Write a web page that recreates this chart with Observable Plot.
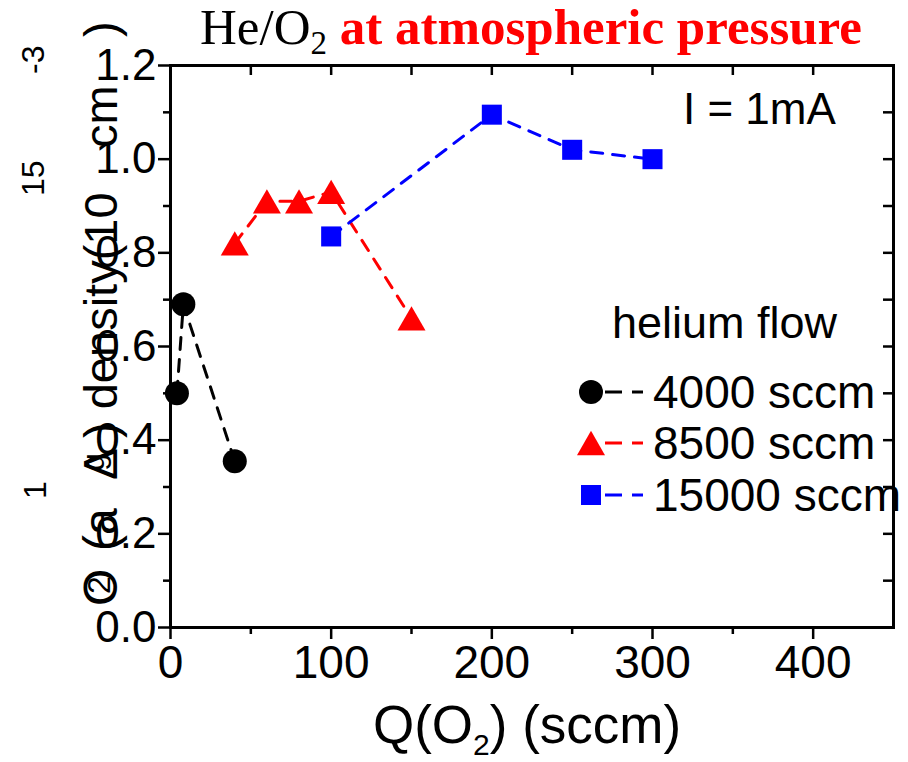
<!DOCTYPE html>
<html>
<head>
<meta charset="utf-8">
<script src="https://cdn.jsdelivr.net/npm/d3@7"></script>
<script src="https://cdn.jsdelivr.net/npm/@observablehq/plot@0.6"></script>
<style>
  html, body { margin: 0; padding: 0; background: white; }
  #chart svg { display: block; }
</style>
</head>
<body>
<div id="chart"></div>
<script>
// ---- data ----
const o2_4000 = [4, 8, 40];
const dens_4000 = [0.50, 0.69, 0.355];
const o2_8500 = [40, 60, 80, 100, 150];
const dens_8500 = [0.82, 0.91, 0.91, 0.93, 0.66];
const o2_15000 = [100, 200, 250, 300];
const dens_15000 = [0.835, 1.095, 1.02, 1.00];

const seriesNames = ["4000 sccm", "8500 sccm", "15000 sccm"];
const xTicks = [0, 100, 200, 300, 400];
const xMinorTicks = [50, 150, 250, 350];
const topTicks = [50, 100, 150, 200, 250, 300, 350, 400];
const yTicks = [0, 0.2, 0.4, 0.6, 0.8, 1.0, 1.2];
const yMinorTicks = [0.1, 0.3, 0.5, 0.7, 0.9, 1.1];
const rightTicks = [0.1, 0.2, 0.3, 0.4, 0.5, 0.6, 0.7, 0.8, 0.9, 1.0, 1.1];

const toRows = (xs, ys, s) => xs.map((x, i) => ({x, y: ys[i], s}));
const rows4000 = toRows(o2_4000, dens_4000, seriesNames[0]);
const rows8500 = toRows(o2_8500, dens_8500, seriesNames[1]);
const rows15000 = toRows(o2_15000, dens_15000, seriesNames[2]);

// triangle centred on its bounding box (Origin style)
const triBox = {
  draw(ctx, size) {
    const s = Math.sqrt(size * 4 / Math.sqrt(3));
    const h = s * Math.sqrt(3) / 2;
    ctx.moveTo(0, -h / 2);
    ctx.lineTo(s / 2, h / 2);
    ctx.lineTo(-s / 2, h / 2);
    ctx.closePath();
  }
};

const W = 908, H = 762;
const mT = 65, mB = 135, mL = 170, mR = 15;
const innerW = W - mL - mR, innerH = H - mT - mB;
const dash = "12,10";

const svg = Plot.plot({
  width: W, height: H,
  marginTop: mT, marginBottom: mB, marginLeft: mL, marginRight: mR,
  x: {domain: [0, 450]},
  y: {domain: [0, 1.2]},
  style: {fontFamily: "'Liberation Sans', Arial, sans-serif", color: "black", background: "white", overflow: "visible"},
  marks: [
    Plot.axisX(xTicks, {tickSize: 12, tickPadding: 6, fontSize: 46, strokeWidth: 2.5, label: null}),
    Plot.axisX(xMinorTicks, {tickSize: 7, tickFormat: () => "", strokeWidth: 2.5, label: null}),
    Plot.axisY(yTicks, {tickSize: 12, tickPadding: 2, fontSize: 44, tickFormat: d3.format(".1f"), strokeWidth: 2.5, label: null}),
    Plot.axisY(yMinorTicks, {tickSize: 7, tickFormat: () => "", strokeWidth: 2.5, label: null}),
    Plot.tickX(topTicks, {x: d => d, insetBottom: innerH - 10, strokeWidth: 2.5}),
    Plot.tickY(rightTicks, {y: d => d, insetLeft: innerW - 10, strokeWidth: 2.5}),
    Plot.frame({strokeWidth: 3}),
    Plot.line(rows4000, {x: "x", y: "y", stroke: "black", strokeWidth: 3, strokeDasharray: dash}),
    Plot.line(rows8500, {x: "x", y: "y", stroke: "#ff0000", strokeWidth: 3, strokeDasharray: dash}),
    Plot.line(rows15000, {x: "x", y: "y", stroke: "#0000ff", strokeWidth: 3, strokeDasharray: dash}),
    Plot.dot(rows4000, {x: "x", y: "y", r: 12, fill: "black", symbol: "circle"}),
    Plot.dot(rows8500, {x: "x", y: "y", r: 10.4, fill: "#ff0000", symbol: triBox}),
    Plot.dot(rows15000, {x: "x", y: "y", r: 11.3, fill: "#0000ff", symbol: "square"})
  ]
});

document.getElementById("chart").appendChild(svg);

const g = d3.select(svg).append("g")
  .attr("font-family", "'Liberation Sans', Arial, sans-serif")
  .attr("text-anchor", "start");

// Title
const title = g.append("text").attr("x", 200).attr("y", 44)
  .attr("font-family", "'Liberation Serif', 'Times New Roman', serif").attr("font-size", 51);
title.append("tspan").attr("fill", "black").text("He/O");
title.append("tspan").attr("fill", "black").attr("font-size", 33).attr("dy", 10).text("2");
title.append("tspan").attr("fill", "#ff0000").attr("font-weight", "bold").attr("dy", -10).text(" at atmospheric pressure");

// I = 1mA
g.append("text").attr("x", 683).attr("y", 124).attr("font-size", 44).attr("fill", "black").text("I = 1mA");

// X axis label
const xl = g.append("text").attr("x", 373).attr("y", 743).attr("font-size", 53).attr("fill", "black");
xl.append("tspan").text("Q(O");
xl.append("tspan").attr("font-size", 30).attr("dy", 12).text("2");
xl.append("tspan").attr("dy", -12).text(") (sccm)");

// Y axis label (rotated, with the displaced sub/superscripts of the original)
function rot(x, y, str, size) {
  g.append("text").attr("transform", `translate(${x},${y}) rotate(-90)`)
    .attr("font-size", size).attr("fill", "black").text(str);
}
rot(117, 606, "O", 48);
rot(110, 594, "2", 32);
rot(117, 551, "(a", 48);
rot(46, 499, "1", 32);
rot(117, 480, "Δ", 48);
rot(104, 471, "g", 32);
rot(117, 438, ") density(10", 47);
rot(44, 196, "15", 32);
rot(117, 148, "cm", 47);
rot(44, 74, "-3", 32);
rot(117, 37, ")", 47);

// Legend
g.append("text").attr("x", 612).attr("y", 338).attr("font-size", 45).attr("fill", "black").text("helium flow");
const legColors = ["black", "#ff0000", "#0000ff"];
const legY = [392, 443, 495];
legColors.forEach((c, i) => {
  const y = legY[i];
  g.append("line").attr("x1", 605).attr("x2", 643).attr("y1", y).attr("y2", y)
    .attr("stroke", c).attr("stroke-width", 3).attr("stroke-dasharray", "17,10");
  if (i === 0) g.append("circle").attr("cx", 591).attr("cy", y).attr("r", 12).attr("fill", c);
  if (i === 1) g.append("path").attr("d", d3.symbol(triBox, Math.PI * 10.4 * 10.4)()).attr("transform", `translate(591,${y})`).attr("fill", c);
  if (i === 2) g.append("rect").attr("x", 581).attr("y", y - 10).attr("width", 20).attr("height", 20).attr("fill", c);
  g.append("text").attr("x", 653).attr("y", y + 16).attr("font-size", 46).attr("fill", "black").text(seriesNames[i]);
});
</script>
</body>
</html>
